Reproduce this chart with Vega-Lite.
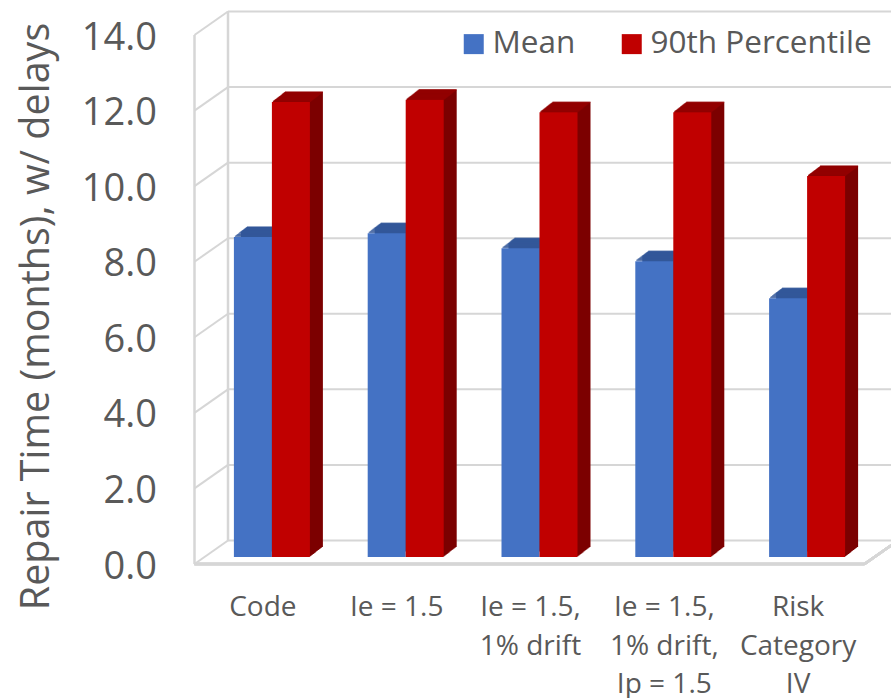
{"$schema":"https://vega.github.io/schema/vega-lite/v6.json","width":696.5,"height":529,"autosize":{"type":"none"},"padding":{"left":194.5,"top":35,"right":0,"bottom":134},"background":"white","view":{"stroke":null},
"config":{"font":"Open Sans"},
"datasets":{"bars":[
{"category":"Code","series":"Mean","value":8.47},{"category":"Code","series":"90th Percentile","value":12.04},
{"category":"Ie = 1.5","series":"Mean","value":8.57},{"category":"Ie = 1.5","series":"90th Percentile","value":12.1},
{"category":"Ie = 1.5,\n1% drift","series":"Mean","value":8.17},{"category":"Ie = 1.5,\n1% drift","series":"90th Percentile","value":11.77},
{"category":"Ie = 1.5,\n1% drift,\nIp = 1.5","series":"Mean","value":7.83},{"category":"Ie = 1.5,\n1% drift,\nIp = 1.5","series":"90th Percentile","value":11.77},
{"category":"Risk\nCategory\nIV","series":"Mean","value":6.85},{"category":"Risk\nCategory\nIV","series":"90th Percentile","value":10.08}],
"grid":[{"tick":0},{"tick":2},{"tick":4},{"tick":6},{"tick":8},{"tick":10},{"tick":12},{"tick":14}]},
"resolve":{"scale":{"x":"independent"},"axis":{"y":"independent"}},
"layer":[
{"data":{"name":"grid"},"mark":{"type":"rule","color":"#d6d6d6","strokeWidth":2,"yOffset":-23.5},
"encoding":{"x":{"datum":1,"type":"quantitative","scale":{"domain":[0,1],"range":[0,33.5]},"axis":null},"x2":{"datum":21},
"y":{"field":"tick","type":"quantitative","scale":{"domain":[0,14],"nice":false},
"axis":{"values":[0,2,4,6,8,10,12,14],"format":".1f","grid":false,"domain":false,"ticks":false,"labelFontSize":38,"labelColor":"#595959","labelPadding":38,"labelOffset":3,"title":"Repair Time (months), w/ delays","titleFontSize":39.5,"titleFontWeight":"normal","titleColor":"#595959","titleX":-158,"titleY":281,"titleAngle":-90,"titleAlign":"center","titleBaseline":"middle"}}}},
{"data":{"name":"grid"},"mark":{"type":"rule","color":"#d6d6d6","strokeWidth":2,"y2Offset":-23.5},
"encoding":{"x":{"datum":0,"type":"quantitative","scale":{"domain":[0,1],"range":[0,33.5]},"axis":null},"x2":{"datum":1},
"y":{"field":"tick","type":"quantitative","axis":null},"y2":{"field":"tick"}}},
{"data":{"name":"grid"},"mark":{"type":"line","color":"#d6d6d6","strokeWidth":2.5},
"encoding":{"x":{"datum":0,"type":"quantitative","scale":{"domain":[0,1],"range":[0,33.5]},"axis":null},"y":{"field":"tick","type":"quantitative","axis":null}}},
{"data":{"name":"grid"},"mark":{"type":"line","color":"#d6d6d6","strokeWidth":2.5,"yOffset":-23.5},
"encoding":{"x":{"datum":1,"type":"quantitative","scale":{"domain":[0,1],"range":[0,33.5]},"axis":null},"y":{"field":"tick","type":"quantitative","axis":null}}},
{"data":{"name":"grid"},"mark":{"type":"rule","color":"#d6d6d6","strokeWidth":2.5},
"encoding":{"x":{"datum":0,"type":"quantitative","scale":{"domain":[0,1],"range":[0,33.5]},"axis":null},"x2":{"datum":20},"y":{"datum":0,"type":"quantitative","axis":null}}},
{"data":{"name":"grid"},"mark":{"type":"rule","color":"#d6d6d6","strokeWidth":2.5,"y2Offset":-23.5},
"encoding":{"x":{"datum":20,"type":"quantitative","scale":{"domain":[0,1],"range":[0,33.5]},"axis":null},"x2":{"datum":21},"y":{"datum":0,"type":"quantitative","axis":null},"y2":{"datum":0}}},
{"data":{"name":"bars"},
"encoding":{"x":{"field":"category","type":"nominal","sort":null,"scale":{"type":"band","range":[10.5,679.5],"padding":0},
"axis":{"title":null,"domain":false,"ticks":false,"labelAngle":0,"labelFontSize":28,"labelColor":"#595959","labelPadding":29.5,"labelOffset":-9,"labelLineHeight":38.5,"labelLimit":300,"labelExpr":"split(datum.label,'\\n')"}},
"y":{"field":"value","type":"quantitative","axis":null}},
"layer":[
{"transform":[{"filter":"datum.series==='Mean'"}],"layer":[
{"mark":{"type":"bar","width":38,"color":"#2f5597","xOffset":-6,"yOffset":-17}},
{"mark":{"type":"bar","width":38,"color":"#2f5597","xOffset":-7,"yOffset":-16.24}},
{"mark":{"type":"bar","width":38,"color":"#2f5597","xOffset":-8,"yOffset":-15.47}},
{"mark":{"type":"bar","width":38,"color":"#2f5597","xOffset":-9,"yOffset":-14.7}},
{"mark":{"type":"bar","width":38,"color":"#2f5597","xOffset":-10,"yOffset":-13.93}},
{"mark":{"type":"bar","width":38,"color":"#2f5597","xOffset":-11,"yOffset":-13.16}},
{"mark":{"type":"bar","width":38,"color":"#2f5597","xOffset":-12,"yOffset":-12.39}},
{"mark":{"type":"tick","size":38,"thickness":1.5,"orient":"horizontal","color":"#33599a","xOffset":-6,"yOffset":-17}},
{"mark":{"type":"tick","size":38,"thickness":1.5,"orient":"horizontal","color":"#33599a","xOffset":-7,"yOffset":-16.24}},
{"mark":{"type":"tick","size":38,"thickness":1.5,"orient":"horizontal","color":"#33599a","xOffset":-8,"yOffset":-15.47}},
{"mark":{"type":"tick","size":38,"thickness":1.5,"orient":"horizontal","color":"#33599a","xOffset":-9,"yOffset":-14.7}},
{"mark":{"type":"tick","size":38,"thickness":1.5,"orient":"horizontal","color":"#33599a","xOffset":-10,"yOffset":-13.93}},
{"mark":{"type":"tick","size":38,"thickness":1.5,"orient":"horizontal","color":"#33599a","xOffset":-11,"yOffset":-13.16}},
{"mark":{"type":"tick","size":38,"thickness":1.5,"orient":"horizontal","color":"#33599a","xOffset":-12,"yOffset":-12.39}},
{"mark":{"type":"tick","size":38,"thickness":1.5,"orient":"horizontal","color":"#33599a","xOffset":-13,"yOffset":-11.62}},
{"mark":{"type":"tick","size":38,"thickness":1.5,"orient":"horizontal","color":"#33599a","xOffset":-14,"yOffset":-10.85}},
{"mark":{"type":"tick","size":38,"thickness":1.5,"orient":"horizontal","color":"#33599a","xOffset":-15,"yOffset":-10.08}},
{"mark":{"type":"tick","size":38,"thickness":1.5,"orient":"horizontal","color":"#33599a","xOffset":-16,"yOffset":-9.31}},
{"mark":{"type":"tick","size":38,"thickness":1.5,"orient":"horizontal","color":"#33599a","xOffset":-17,"yOffset":-8.54}},
{"mark":{"type":"tick","size":38,"thickness":1.5,"orient":"horizontal","color":"#33599a","xOffset":-18,"yOffset":-7.77}},
{"mark":{"type":"bar","width":38,"xOffset":-19,"yOffset":-7},"encoding":{"color":{"field":"series","type":"nominal","scale":{"domain":["Mean","90th Percentile"],"range":["#4472c4","#c00000"]},"legend":{"title":null,"orient":"none","legendX":263.5,"legendY":-7,"direction":"horizontal","symbolType":"square","symbolSize":400,"symbolStrokeWidth":0,"labelFontSize":31.5,"labelColor":"#595959","labelOffset":3,"columnPadding":40,"labelLimit":400}}}}
]},
{"transform":[{"filter":"datum.series==='90th Percentile'"}],"layer":[
{"mark":{"type":"bar","width":38,"color":"#7c0000","xOffset":32,"yOffset":-17}},
{"mark":{"type":"bar","width":38,"color":"#7c0000","xOffset":31,"yOffset":-16.24}},
{"mark":{"type":"bar","width":38,"color":"#7c0000","xOffset":30,"yOffset":-15.47}},
{"mark":{"type":"bar","width":38,"color":"#7c0000","xOffset":29,"yOffset":-14.7}},
{"mark":{"type":"bar","width":38,"color":"#7c0000","xOffset":28,"yOffset":-13.93}},
{"mark":{"type":"bar","width":38,"color":"#7c0000","xOffset":27,"yOffset":-13.16}},
{"mark":{"type":"bar","width":38,"color":"#7c0000","xOffset":26,"yOffset":-12.39}},
{"mark":{"type":"bar","width":38,"color":"#7c0000","xOffset":25,"yOffset":-11.62}},
{"mark":{"type":"bar","width":38,"color":"#7c0000","xOffset":24,"yOffset":-10.85}},
{"mark":{"type":"bar","width":38,"color":"#7c0000","xOffset":23,"yOffset":-10.08}},
{"mark":{"type":"bar","width":38,"color":"#7c0000","xOffset":22,"yOffset":-9.31}},
{"mark":{"type":"bar","width":38,"color":"#7c0000","xOffset":21,"yOffset":-8.54}},
{"mark":{"type":"bar","width":38,"color":"#7c0000","xOffset":20,"yOffset":-7.77}},
{"mark":{"type":"tick","size":38,"thickness":1.5,"orient":"horizontal","color":"#960000","xOffset":32,"yOffset":-17}},
{"mark":{"type":"tick","size":38,"thickness":1.5,"orient":"horizontal","color":"#960000","xOffset":31,"yOffset":-16.24}},
{"mark":{"type":"tick","size":38,"thickness":1.5,"orient":"horizontal","color":"#960000","xOffset":30,"yOffset":-15.47}},
{"mark":{"type":"tick","size":38,"thickness":1.5,"orient":"horizontal","color":"#960000","xOffset":29,"yOffset":-14.7}},
{"mark":{"type":"tick","size":38,"thickness":1.5,"orient":"horizontal","color":"#960000","xOffset":28,"yOffset":-13.93}},
{"mark":{"type":"tick","size":38,"thickness":1.5,"orient":"horizontal","color":"#960000","xOffset":27,"yOffset":-13.16}},
{"mark":{"type":"tick","size":38,"thickness":1.5,"orient":"horizontal","color":"#960000","xOffset":26,"yOffset":-12.39}},
{"mark":{"type":"tick","size":38,"thickness":1.5,"orient":"horizontal","color":"#960000","xOffset":25,"yOffset":-11.62}},
{"mark":{"type":"tick","size":38,"thickness":1.5,"orient":"horizontal","color":"#960000","xOffset":24,"yOffset":-10.85}},
{"mark":{"type":"tick","size":38,"thickness":1.5,"orient":"horizontal","color":"#960000","xOffset":23,"yOffset":-10.08}},
{"mark":{"type":"tick","size":38,"thickness":1.5,"orient":"horizontal","color":"#960000","xOffset":22,"yOffset":-9.31}},
{"mark":{"type":"tick","size":38,"thickness":1.5,"orient":"horizontal","color":"#960000","xOffset":21,"yOffset":-8.54}},
{"mark":{"type":"tick","size":38,"thickness":1.5,"orient":"horizontal","color":"#960000","xOffset":20,"yOffset":-7.77}},
{"mark":{"type":"bar","width":38,"xOffset":19,"yOffset":-7},"encoding":{"color":{"field":"series","type":"nominal","scale":{"domain":["Mean","90th Percentile"],"range":["#4472c4","#c00000"]},"legend":{"title":null,"orient":"none","legendX":263.5,"legendY":-7,"direction":"horizontal","symbolType":"square","symbolSize":400,"symbolStrokeWidth":0,"labelFontSize":31.5,"labelColor":"#595959","labelOffset":3,"columnPadding":40,"labelLimit":400}}}}
]}
]}
]}
